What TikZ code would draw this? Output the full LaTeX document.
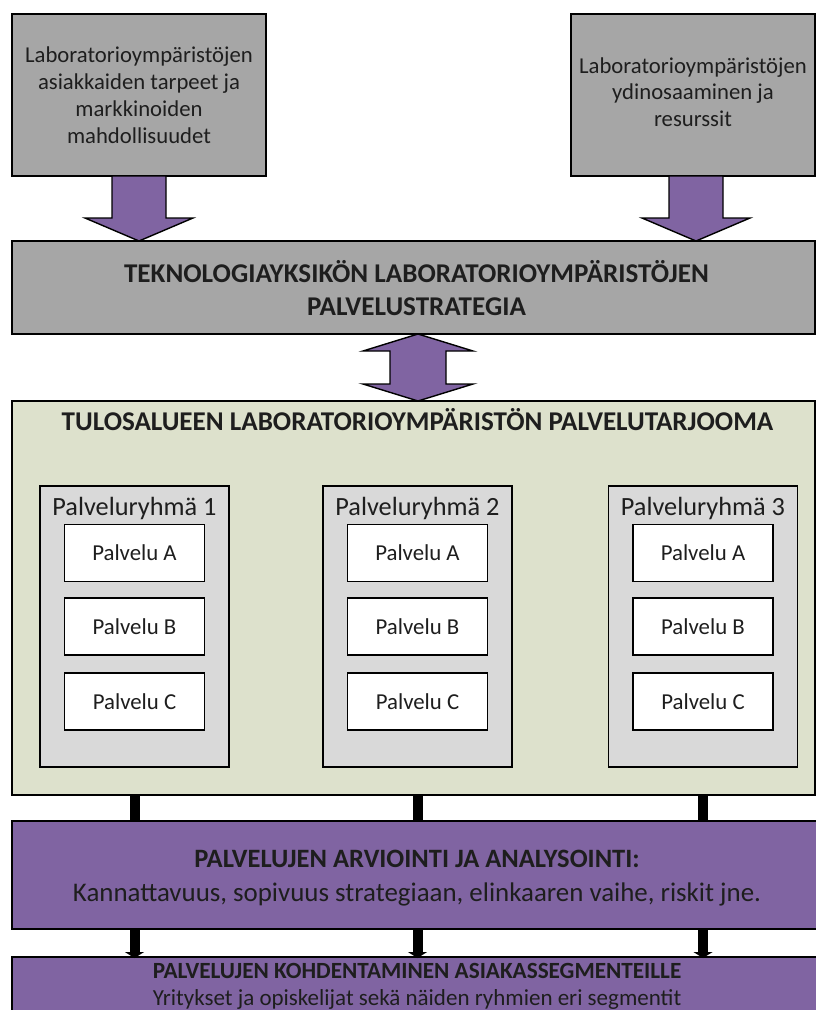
\documentclass[tikz,border=0pt]{standalone}
\usepackage{fontspec}
\setmainfont{Carlito}
\usetikzlibrary{arrows.meta,calc}
\definecolor{boxgray}{HTML}{A6A6A6}
\definecolor{violet}{HTML}{8064A2}
\definecolor{offerbg}{HTML}{DDE1CC}
\definecolor{groupbg}{HTML}{D9D9D9}
\definecolor{ink}{HTML}{1E1E1E}
\begin{document}
\begin{tikzpicture}[x=1pt,y=-1pt,
  box/.style={draw=black, line width=1.4pt, inner sep=0pt, outer sep=0pt,
    align=center, text=ink},
  inputbox/.style={box, fill=boxgray, font=\fontsize{22.7}{27}\selectfont,
    minimum height=162pt},
  groupbox/.style={box, fill=groupbg, minimum width=189pt, minimum height=281pt},
  service/.style={box, fill=white, minimum width=140pt, minimum height=57pt,
    font=\fontsize{22.8}{27}\selectfont},
  grouptitle/.style={text=ink, font=\fontsize{26.3}{30}\selectfont},
  bigtitle/.style={text=ink, align=center, font=\bfseries\fontsize{27.1}{33}\selectfont},
  blockarrow/.style={draw=black, line width=1.4pt, fill=violet, line join=miter},
  bar/.style={draw=black, line width=10pt},
  tipbar/.style={bar, -{Triangle[width=19pt,length=6pt]}, shorten >=-1pt}
]
\useasboundingbox (0,0) rectangle (816,1010);

% inputs
\node[inputbox, minimum width=254pt] (needs) at (139,95)
  {Laboratorioympäristöjen\\asiakkaiden tarpeet ja\\markkinoiden\\mahdollisuudet};
\node[inputbox, minimum width=244pt] (core) at (693,95) {};
\node[text=ink, align=center, font=\fontsize{22.7}{26.5}\selectfont] (coretext) at (693,92)
  {Laboratorioympäristöjen\\ydinosaaminen ja\\resurssit};

% strategy
\node[box, fill=boxgray, minimum width=803pt, minimum height=93pt] (strategy) at (413.5,287.5) {};
\node[bigtitle] (strategytext) at (416.5,288.5)
  {TEKNOLOGIAYKSIKÖN LABORATORIOYMPÄRISTÖJEN\\PALVELUSTRATEGIA};

% block arrows from the inputs down to the strategy
\draw[blockarrow] ($(needs.south)+(-27,0)$) -- ++(0,42) -- ++(-27,0)
  -- (needs.south |- strategy.north) -- ($(needs.south)+(54,42)$) -- ++(-27,0)
  -- ($(needs.south)+(27,0)$) -- cycle;
\coordinate (ca) at ($(core.south)+(3,0)$);
\draw[blockarrow] ($(ca)+(-27,0)$) -- ++(0,42) -- ++(-27,0)
  -- (ca |- strategy.north) -- ($(ca)+(54,42)$) -- ++(-27,0)
  -- ($(ca)+(27,0)$) -- cycle;

% service offering
\node[box, fill=offerbg, minimum width=803pt, minimum height=394pt] (offer) at (413.5,598) {};
\node[bigtitle] (offertitle) at (417.5,420)
  {TULOSALUEEN LABORATORIOYMPÄRISTÖN PALVELUTARJOOMA};

% two-way arrow between strategy and offering
\coordinate (dt) at (418,0 |- strategy.south);
\coordinate (db) at (418,0 |- offer.north);
\draw[blockarrow] (dt) -- ++(55,17) -- ++(-27,0) -- ++(0,33) -- ++(27,0)
  -- (db) -- ++(-55,-17) -- ++(27,0) -- ++(0,-33) -- ++(-27,0) -- cycle;

% service groups
\foreach \i/\x in {1/134.5, 2/417.5, 3/703} {
  \node[groupbox] (g\i) at (\x,626.5) {};
  \node[grouptitle] (g\i t) at (\x,508) {Palveluryhmä \i};
  \node[service] (s\i a) at (\x,553) {Palvelu A};
  \node[service] (s\i b) at (\x,626.5) {Palvelu B};
  \node[service] (s\i c) at (\x,701.5) {Palvelu C};
}

% evaluation and targeting
\node[box, fill=violet, minimum width=810pt, minimum height=108pt] (eval) at (417,875) {};
\node[text=ink, align=center, font=\fontsize{26.9}{34}\selectfont] (evaltext) at (417,878)
  {{\bfseries\fontsize{26.5}{34}\selectfont PALVELUJEN ARVIOINTI JA ANALYSOINTI:}\\
   Kannattavuus, sopivuus strategiaan, elinkaaren vaihe, riskit jne.};
\node[box, fill=violet, minimum width=810pt, minimum height=66pt, anchor=north] (target) at (417,957) {};
\node[text=ink, align=center, font=\fontsize{23}{27}\selectfont] (targettext) at (417,986.5)
  {{\bfseries\fontsize{23.2}{27}\selectfont PALVELUJEN KOHDENTAMINEN ASIAKASSEGMENTEILLE}\\
   Yritykset ja opiskelijat sekä näiden ryhmien eri segmentit};

% connectors
\foreach \i in {1,2,3} {
  \draw[bar] (g\i.center |- offer.south) -- (g\i.center |- eval.north);
  \draw[tipbar] (g\i.center |- eval.south) -- (g\i.center |- target.north);
}
\end{tikzpicture}
\end{document}
